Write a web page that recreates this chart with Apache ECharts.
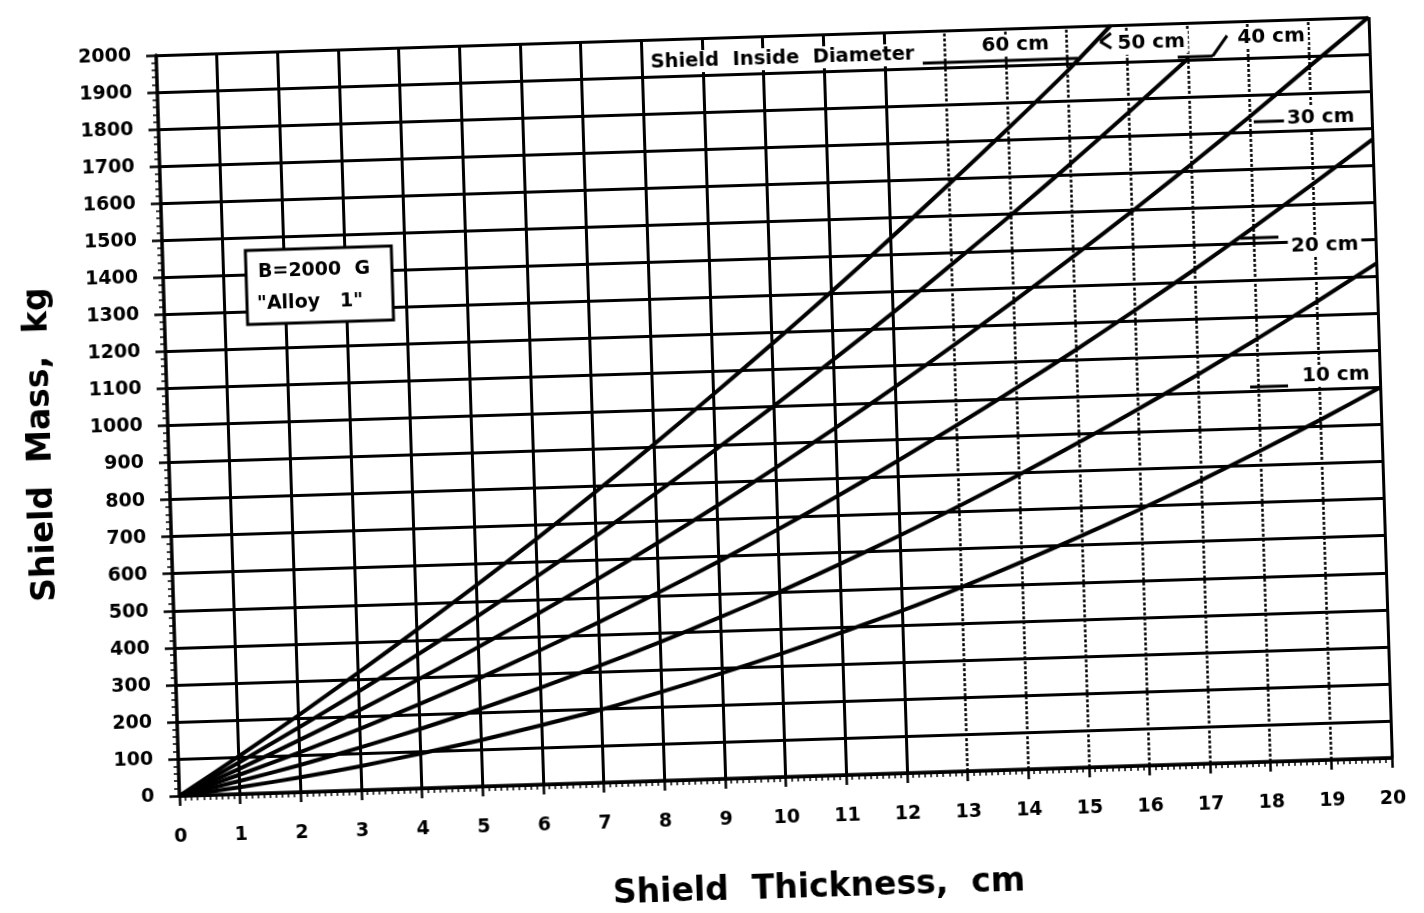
<!DOCTYPE html>
<html>
<head>
<meta charset="utf-8">
<script src="https://cdn.jsdelivr.net/npm/echarts@6/dist/echarts.min.js"></script>
<style>
  html, body { margin: 0; padding: 0; background: #ffffff; overflow: hidden; }
  #chart { width: 1424px; height: 913px; transform: rotate(-1.8deg); transform-origin: 712px 456px; }
</style>
</head>
<body>
<div id="chart"></div>
<script>
// ---- data ----
const thickness = [0,1,2,3,4,5,6,7,8,9,10,11,12,13,14,15,16,17,18,19,20];
const diam10 = [0,18,40,65,94,125,160,197,240,285,333,385,438,497,560,625,693,765,840,918,1000];
const diam20 = [0,35,73,115,160,209,261,316,374,436,500,569,641,716,795,877,962,1050,1142,1237,1335];
const diam30 = [0,52,107,165,227,292,361,433,508,586,668,753,842,934,1029,1127,1229,1334,1443,1555,1670];
const diam40 = [0,68,140,215,294,376,461,549,641,736,835,937,1042,1151,1263,1378,1496,1618,1743,1872,2000];
const diam50 = [0,85,174,266,361,459,561,666,775,887,1002,1121,1242,1368,1496,1628,1764,1903];
const diam60 = [0,102,207,316,428,543,661,783,908,1037,1169,1304,1443,1585,1730,1879];
const diam60End = [15.75, 2000];
const diamLabels = ['10 cm','20 cm','30 cm','40 cm','50 cm','60 cm'];
const solidX = [1,2,3,4,5,6,7,8,9,10,11,12,20];
const dottedX = [13,14,15,16,17,18,19];

function pairs(vals) { return vals.map((v, i) => [thickness[i], v]); }

const FONT = 'DejaVu Sans';
const chart = echarts.init(document.getElementById('chart'), null, { renderer: 'canvas' });

const curveStyle = { color: '#000', width: 4 };
const mkCurve = (name, data) => ({
  name, type: 'line', data, smooth: 0.25, showSymbol: false, symbol: 'none',
  lineStyle: curveStyle, z: 5, silent: true
});

const vLines = solidX.map(x => ({ xAxis: x, lineStyle: { type: 'solid', width: 3, color: '#000' } }))
  .concat(dottedX.map(x => ({ xAxis: x, lineStyle: { type: [3, 2], width: 2.5, color: '#000' } })));

function txt(x, y, text, size, align) {
  return { type: 'text', x: x, y: y, z: 20,
    style: { text, fill: '#000', font: 'bold ' + size + 'px "' + FONT + '"',
      align: align || 'left', verticalAlign: 'middle', backgroundColor: '#fff', padding: [1, 3] } };
}
function line(x1, y1, x2, y2) {
  return { type: 'line', z: 19, shape: { x1, y1, x2, y2 }, style: { stroke: '#000', lineWidth: 3 } };
}

chart.setOption({
  animation: false,
  backgroundColor: '#ffffff',
  grid: { left: 169, top: 38, width: 1213, height: 748 },
  xAxis: {
    type: 'value', min: 0, max: 20, interval: 1,
    name: 'Shield  Thickness,  cm', nameLocation: 'middle', nameGap: 96,
    nameTextStyle: { fontFamily: FONT, fontWeight: 'bold', fontSize: 33, color: '#000', padding: [0, 0, 0, 60] },
    axisLine: { show: true, lineStyle: { color: '#000', width: 3.5 } },
    axisTick: { show: true, length: 10, lineStyle: { color: '#000', width: 2.5 } },
    minorTick: { show: true, splitNumber: 10, length: 5, lineStyle: { color: '#000', width: 1.5 } },
    axisLabel: { margin: 32, fontFamily: FONT, fontWeight: 'bold', fontSize: 19, color: '#000' },
    splitLine: { show: false }
  },
  yAxis: {
    type: 'value', min: 0, max: 2000, interval: 100,
    name: 'Shield  Mass,  kg', nameLocation: 'middle', nameGap: 110,
    nameTextStyle: { fontFamily: FONT, fontWeight: 'bold', fontSize: 33, color: '#000', padding: [0, 30, 0, 0] },
    axisLine: { show: true, lineStyle: { color: '#000', width: 3.5 } },
    axisTick: { show: true, length: 10, lineStyle: { color: '#000', width: 2.5 } },
    minorTick: { show: true, splitNumber: 5, length: 5, lineStyle: { color: '#000', width: 1.5 } },
    axisLabel: { margin: 25, fontFamily: FONT, fontWeight: 'bold', fontSize: 19, color: '#000',
      formatter: v => String(v) },
    splitLine: { show: true, lineStyle: { color: '#000', width: 3 } }
  },
  series: [
    { type: 'line', data: [], silent: true, z: 3,
      markLine: { silent: true, symbol: 'none', label: { show: false }, animation: false, data: vLines } },
    mkCurve(diamLabels[0], pairs(diam10)),
    mkCurve(diamLabels[1], pairs(diam20)),
    mkCurve(diamLabels[2], pairs(diam30)),
    mkCurve(diamLabels[3], pairs(diam40)),
    mkCurve(diamLabels[4], pairs(diam50)),
    mkCurve(diamLabels[5], pairs(diam60).concat([diam60End]))
  ],
  graphic: [
    { type: 'rect', z: 18, shape: { x: 252, y: 236, width: 146, height: 74 },
      style: { fill: '#fff', stroke: '#000', lineWidth: 3 } },
    { type: 'text', z: 21, x: 264, y: 258,
      style: { text: 'B=2000  G', fill: '#000', font: 'bold 19px "' + FONT + '"', verticalAlign: 'middle' } },
    { type: 'text', z: 21, x: 262, y: 290,
      style: { text: '"Alloy   1"', fill: '#000', font: 'bold 19px "' + FONT + '"', verticalAlign: 'middle' } },
    txt(660, 61, 'Shield  Inside  Diameter', 19.5),
    line(935, 70, 1090, 70),
    txt(1028, 55, diamLabels[5], 20, 'center'),
    line(1124, 46, 1113, 54), line(1113, 54, 1124, 61),
    txt(1164, 57, diamLabels[4], 20, 'center'),
    line(1190, 72, 1225, 72), line(1225, 72, 1240, 52),
    txt(1284, 55, diamLabels[3], 20, 'center'),
    line(1264, 139, 1302, 139),
    txt(1331, 137, diamLabels[2], 20, 'center'),
    line(1247, 255, 1285, 255),
    txt(1331, 265, diamLabels[1], 20, 'center'),
    line(1252, 404, 1290, 404),
    txt(1338, 395, diamLabels[0], 20, 'center')
  ]
});
</script>
</body>
</html>
